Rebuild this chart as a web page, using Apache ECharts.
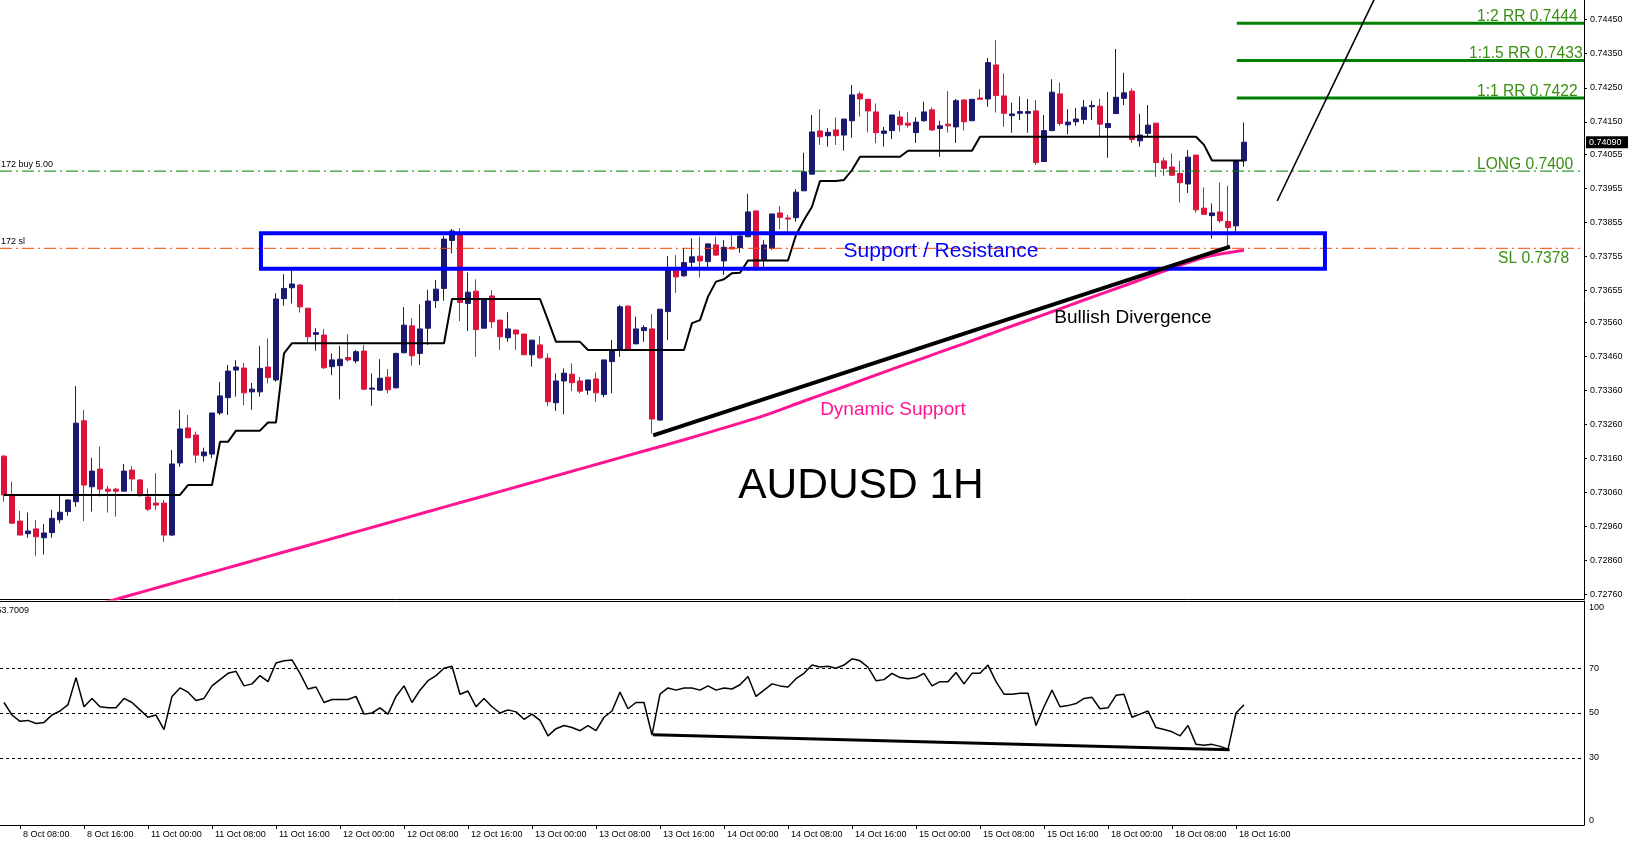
<!DOCTYPE html>
<html><head><meta charset="utf-8">
<script src="https://cdn.jsdelivr.net/npm/echarts@6/dist/echarts.min.js"></script>
<style>html,body{margin:0;padding:0;background:#fff;}#c{width:1630px;height:846px;}</style>
</head><body><div id="c"></div>
<script>
// ---------- DATA ----------
// trading sessions -> hourly categories (last ones are empty future space)
const sessions = [['8 Oct',6,23],['11 Oct',0,23],['12 Oct',0,23],['13 Oct',0,23],['14 Oct',0,23],['15 Oct',0,23],['18 Oct',0,23],['19 Oct',0,23],['20 Oct',0,11]];
const barCount = 156;

const openP = [0.73167,0.73053,0.72976,0.72939,0.72953,0.72927,0.72942,0.72980,0.73004,0.73033,
0.73271,0.73077,0.73129,0.73070,0.73070,0.73064,0.73126,0.73097,0.73047,0.73029,
0.73029,0.72935,0.73147,0.73250,0.73229,0.73168,0.73173,0.73294,0.73339,0.73420,
0.73426,0.73356,0.73356,0.73429,0.73391,0.73630,0.73662,0.73670,0.73602,0.73525,
0.73523,0.73430,0.73433,0.73457,0.73447,0.73476,0.73364,0.73361,0.73399,0.73368,
0.73471,0.73550,0.73469,0.73543,0.73624,0.73660,0.73801,0.73819,0.73616,0.73652,
0.73543,0.73638,0.73567,0.73515,0.73538,0.73526,0.73465,0.73494,0.73455,0.73324,
0.73388,0.73408,0.73388,0.73361,0.73394,0.73348,0.73445,0.73481,0.73608,0.73497,
0.73536,0.73541,0.73273,0.73592,0.73714,0.73697,0.73737,0.73755,0.73739,0.73788,
0.73741,0.73781,0.73780,0.73812,0.73888,0.73744,0.73778,0.73882,0.73867,0.73868,
0.73947,0.73996,0.74123,0.74109,0.74126,0.74111,0.74153,0.74232,0.74216,0.74179,
0.74116,0.74124,0.74164,0.74146,0.74118,0.74153,0.74185,0.74130,0.74143,0.74135,
0.74214,0.74153,0.74220,0.74217,0.74317,0.74226,0.74168,0.74175,0.74175,0.74182,
0.74033,0.74124,0.74232,0.74141,0.74150,0.74157,0.74194,0.74196,0.74133,0.74174,
0.74219,0.74240,0.74094,0.74116,0.74146,0.74035,0.74017,0.73998,0.73967,0.74052,
0.73896,0.73874,0.73885,0.73857,0.73844,0.74035];
const closeP = [0.73053,0.72970,0.72935,0.72947,0.72930,0.72941,0.72984,0.73002,0.73038,0.73264,
0.73082,0.73123,0.73070,0.73064,0.73064,0.73123,0.73100,0.73051,0.73011,0.73023,
0.72935,0.73144,0.73247,0.73221,0.73170,0.73179,0.73294,0.73344,0.73417,0.73429,
0.73353,0.73364,0.73425,0.73398,0.73629,0.73660,0.73673,0.73606,0.73518,0.73530,
0.73427,0.73450,0.73452,0.73450,0.73474,0.73364,0.73367,0.73396,0.73362,0.73469,
0.73552,0.73462,0.73541,0.73623,0.73658,0.73805,0.73829,0.73619,0.73649,0.73539,
0.73626,0.73562,0.73518,0.73541,0.73526,0.73465,0.73508,0.73456,0.73327,0.73388,
0.73411,0.73383,0.73358,0.73391,0.73353,0.73450,0.73477,0.73606,0.73481,0.73541,
0.73545,0.73276,0.73599,0.73714,0.73694,0.73736,0.73753,0.73741,0.73791,0.73758,
0.73781,0.73776,0.73814,0.73885,0.73720,0.73788,0.73879,0.73869,0.73864,0.73943,
0.74003,0.74120,0.74106,0.74119,0.74109,0.74158,0.74229,0.74217,0.74182,0.74118,
0.74123,0.74170,0.74141,0.74140,0.74149,0.74179,0.74126,0.74138,0.74138,0.74212,
0.74150,0.74216,0.74216,0.74324,0.74227,0.74175,0.74173,0.74180,0.74180,0.74030,
0.74124,0.74237,0.74145,0.74149,0.74158,0.74193,0.74198,0.74143,0.74145,0.74222,
0.74235,0.74098,0.74111,0.74140,0.74030,0.74013,0.73993,0.73971,0.74046,0.73891,
0.73878,0.73882,0.73859,0.73839,0.74035,0.74090];
const lowP = [0.73033,0.72967,0.72935,0.72927,0.72874,0.72878,0.72927,0.72970,0.72992,0.73018,
0.72976,0.73004,0.73048,0.73001,0.72989,0.73064,0.73064,0.73048,0.73006,0.73009,
0.72915,0.72932,0.73136,0.73219,0.73147,0.73151,0.73161,0.73288,0.73288,0.73342,
0.73317,0.73303,0.73342,0.73381,0.73386,0.73609,0.73616,0.73589,0.73503,0.73477,
0.73423,0.73405,0.73334,0.73445,0.73440,0.73361,0.73315,0.73359,0.73352,0.73366,
0.73469,0.73433,0.73435,0.73494,0.73603,0.73624,0.73763,0.73564,0.73535,0.73459,
0.73543,0.73543,0.73479,0.73503,0.73479,0.73465,0.73430,0.73452,0.73314,0.73300,
0.73290,0.73358,0.73352,0.73347,0.73327,0.73340,0.73352,0.73459,0.73479,0.73497,
0.73503,0.73234,0.73271,0.73508,0.73647,0.73694,0.73722,0.73692,0.73719,0.73756,
0.73700,0.73776,0.73765,0.73812,0.73711,0.73714,0.73773,0.73835,0.73827,0.73856,
0.73947,0.73996,0.74082,0.74077,0.74082,0.74065,0.74103,0.74165,0.74119,0.74087,
0.74077,0.74099,0.74121,0.74133,0.74088,0.74150,0.74123,0.74047,0.74118,0.74088,
0.74124,0.74153,0.74216,0.74194,0.74177,0.74135,0.74118,0.74155,0.74118,0.74023,
0.74033,0.74124,0.74138,0.74113,0.74138,0.74143,0.74155,0.74108,0.74044,0.74174,
0.74199,0.74088,0.74077,0.74108,0.73988,0.73991,0.73991,0.73912,0.73941,0.73883,
0.73878,0.73807,0.73853,0.73785,0.73827,0.74018];
const highP = [0.73170,0.73092,0.73006,0.73001,0.72979,0.72967,0.73009,0.73053,0.73041,0.73373,
0.73303,0.73162,0.73195,0.73080,0.73074,0.73144,0.73138,0.73100,0.73072,0.73117,
0.73038,0.73185,0.73303,0.73288,0.73239,0.73192,0.73294,0.73385,0.73435,0.73449,
0.73441,0.73382,0.73491,0.73513,0.73646,0.73702,0.73714,0.73673,0.73602,0.73543,
0.73541,0.73469,0.73491,0.73525,0.73479,0.73494,0.73410,0.73452,0.73423,0.73471,
0.73605,0.73572,0.73613,0.73656,0.73685,0.73815,0.73835,0.73837,0.73707,0.73687,
0.73626,0.73655,0.73567,0.73590,0.73538,0.73526,0.73508,0.73520,0.73469,0.73410,
0.73425,0.73440,0.73400,0.73391,0.73413,0.73450,0.73508,0.73611,0.73611,0.73577,
0.73552,0.73585,0.73599,0.73755,0.73758,0.73778,0.73807,0.73812,0.73793,0.73812,
0.73802,0.73817,0.73827,0.73938,0.73888,0.73802,0.73879,0.73902,0.73876,0.73952,
0.74059,0.74170,0.74187,0.74131,0.74163,0.74158,0.74258,0.74238,0.74216,0.74204,
0.74135,0.74170,0.74182,0.74178,0.74163,0.74209,0.74192,0.74153,0.74240,0.74217,
0.74216,0.74216,0.74246,0.74338,0.74390,0.74292,0.74206,0.74224,0.74217,0.74214,
0.74170,0.74275,0.74265,0.74187,0.74191,0.74214,0.74212,0.74217,0.74238,0.74364,
0.74294,0.74248,0.74173,0.74199,0.74146,0.74045,0.74057,0.74035,0.74067,0.74052,
0.73957,0.73910,0.73971,0.73962,0.74035,0.74148];

// black trailing (step-like) indicator line
const trailLine = [0.73053,0.73053,0.73053,0.73053,0.73053,0.73053,0.73053,0.73053,0.73053,0.73053,
0.73053,0.73053,0.73053,0.73053,0.73053,0.73053,0.73053,0.73053,0.73053,0.73053,
0.73053,0.73053,0.73053,0.73082,0.73082,0.73082,0.73082,0.73209,0.73209,0.73242,
0.73242,0.73242,0.73242,0.73266,0.73266,0.73469,0.73499,0.73499,0.73499,0.73499,
0.73499,0.73499,0.73499,0.73499,0.73499,0.73499,0.73499,0.73499,0.73499,0.73499,
0.73499,0.73499,0.73499,0.73499,0.73499,0.73499,0.73629,0.73629,0.73629,0.73629,
0.73629,0.73629,0.73629,0.73629,0.73629,0.73629,0.73629,0.73629,0.73567,0.73503,
0.73503,0.73503,0.73503,0.73479,0.73479,0.73479,0.73479,0.73479,0.73479,0.73479,
0.73479,0.73479,0.73479,0.73479,0.73479,0.73479,0.73558,0.73567,0.73636,0.73680,
0.73687,0.73705,0.73706,0.73742,0.73742,0.73742,0.73742,0.73742,0.73742,0.73817,
0.73861,0.73900,0.73976,0.73976,0.73976,0.73979,0.74008,0.74047,0.74047,0.74047,
0.74047,0.74047,0.74047,0.74065,0.74065,0.74065,0.74065,0.74065,0.74065,0.74065,
0.74065,0.74065,0.74106,0.74106,0.74106,0.74106,0.74106,0.74106,0.74106,0.74106,
0.74106,0.74106,0.74106,0.74106,0.74106,0.74106,0.74106,0.74106,0.74106,0.74106,
0.74106,0.74106,0.74106,0.74106,0.74106,0.74106,0.74106,0.74106,0.74106,0.74106,
0.74082,0.74036,0.74036,0.74036,0.74036,0.74036];

// pink moving average ("Dynamic Support"), read every 5 bars
const maIndex = [10,15,20,25,30,35,40,45,50,55,60,65,70,75,80,85,90,95,100,105,110,115,120,125,130,135,140,145,150,155];
const maValue = [0.72720,0.72753,0.72786,0.72819,0.72852,0.72885,0.72918,0.72951,0.72984,0.73017,
0.73050,0.73083,0.73116,0.73149,0.73182,0.73215,0.73250,0.73286,0.73329,0.73371,
0.73414,0.73456,0.73498,0.73541,0.73583,0.73626,0.73668,0.73711,0.73751,0.73772];

// RSI(14)
const rsiValues = [54.7,49.1,46.3,46.7,45.3,45.8,49.1,50.9,53.7,65.8,
52.8,56.5,52.8,52.3,52.3,56.5,54.7,51.4,48.1,49.1,
42.6,57.4,61.2,59.3,55.6,56.5,62.1,64.9,67.7,68.6,
62.1,63.0,66.7,64.0,72.3,73.3,73.7,67.7,60.7,61.6,
54.7,56.0,56.0,56.0,57.4,49.5,50.0,52.3,49.5,57.4,
62.1,54.7,60.2,64.4,66.7,70.0,70.9,58.4,59.8,52.8,
56.5,52.8,50.0,51.4,50.5,47.2,49.5,46.7,39.8,43.0,
44.4,43.5,42.1,44.4,42.1,48.1,50.9,59.3,51.9,54.7,
54.7,40.2,58.4,61.2,60.2,61.2,61.2,60.2,62.1,60.2,
61.2,60.7,62.6,66.3,57.4,60.2,63.0,62.1,61.6,65.3,
67.7,71.4,70.5,70.9,70.0,71.4,74.2,73.3,70.5,64.4,
64.9,67.7,65.8,65.3,65.8,67.7,62.1,64.0,64.0,68.1,
63.0,67.7,67.7,71.4,64.0,58.4,58.4,58.8,58.8,44.4,
52.8,60.2,52.8,53.3,54.2,56.5,57.0,51.9,52.3,57.9,
58.4,48.1,49.5,50.9,43.5,42.6,41.6,39.8,44.4,36.0,
35.6,36.0,35.1,33.8,50.0,53.7009];
const rsiLevels = [30, 50, 70];
const rsiTicks = [0, 30, 50, 70, 100];

// axis tick labels of the price scale
const priceTicks = [0.74450,0.74350,0.74250,0.74150,0.74055,0.73955,0.73855,0.73755,0.73655,0.73560,
0.73460,0.73360,0.73260,0.73160,0.73060,0.72960,0.72860,0.72760];

// trade levels
const longPrice = 0.74005, slPrice = 0.73778;
const rrLevels = [0.7444, 0.7433, 0.7422];
const rrLabels = ['1:2 RR 0.7444', '1:1.5 RR 0.7433', '1:1 RR 0.7422'];
// support / resistance zone (bar index from-to, price top-bottom)
const zoneBars = [32.12, 165.12];
const zonePrices = [0.73822, 0.73718];
// drawn trend lines [barIndex, price]
const divergencePrice = [[81.15, 0.73228], [153.25, 0.73783]];
const projection = [[159.15, 0.73917], [173, 0.74594]];
const divergenceRsi = [[81.1, 40.3], [153.2, 33.6]];
const rrStartBar = 154.1;

// ---------- BUILD ----------
const cats = [];
sessions.forEach(([d, a, b]) => { for (let h = a; h <= b; h++) cats.push(d + ' ' + String(h).padStart(2, '0') + ':00'); });
const N = cats.length;
const candles = openP.map((o, i) => [o, closeP[i], lowP[i], highP[i]]);
const FONT = "'Liberation Sans', Arial, sans-serif";
const BULL = '#191970', BEAR = '#DC143C';
const labelShown = (i) => i < barCount && (i - 2) % 8 === 0;

const hLine = (v, color, width, type, from, to) => ({
  type: 'line', xAxisIndex: 1, yAxisIndex: 0, silent: true, showSymbol: false, symbol: 'none', z: 6,
  data: [[from, v], [to, v]], lineStyle: { color, width, type }
});

const option = {
  animation: false,
  backgroundColor: '#ffffff',
  grid: [
    { left: 0, top: 0, width: 1584, height: 599 },
    { left: 0, top: 601, width: 1584, height: 224 }
  ],
  xAxis: [
    { type: 'category', gridIndex: 0, data: cats, boundaryGap: true,
      axisLine: { show: true, onZero: false, lineStyle: { color: '#000', width: 1 } },
      axisTick: { show: false }, axisLabel: { show: false }, splitLine: { show: false } },
    { type: 'value', gridIndex: 0, min: -0.5, max: N - 0.5, show: false },
    { type: 'category', gridIndex: 1, data: cats, boundaryGap: true,
      axisLine: { show: true, onZero: false, lineStyle: { color: '#000', width: 1 } },
      axisTick: { show: true, interval: labelShown, alignWithLabel: true, length: 4, lineStyle: { color: '#000' } },
      axisLabel: { show: true, interval: labelShown, align: 'left', padding: [0, 0, 0, 3], margin: 5,
        color: '#000', fontSize: 9, fontFamily: FONT },
      splitLine: { show: false } },
    { type: 'value', gridIndex: 1, min: -0.5, max: N - 0.5, position: 'top',
      axisLine: { show: true, onZero: false, lineStyle: { color: '#000', width: 1 } },
      axisTick: { show: false }, axisLabel: { show: false }, splitLine: { show: false } }
  ],
  yAxis: [
    { type: 'value', gridIndex: 0, position: 'right', min: 0.72747, max: 0.74508, scale: true,
      axisLine: { show: true, onZero: false, lineStyle: { color: '#000', width: 1 } },
      axisTick: { show: true, customValues: priceTicks, length: 3, lineStyle: { color: '#000' } },
      axisLabel: { show: true, customValues: priceTicks, formatter: (v) => Number(v).toFixed(5),
        color: '#000', fontSize: 9, fontFamily: FONT, margin: 6 },
      splitLine: { show: false } },
    { type: 'value', gridIndex: 1, position: 'right', min: 0, max: 100,
      axisLine: { show: true, onZero: false, lineStyle: { color: '#000', width: 1 } },
      axisTick: { show: false },
      axisLabel: { show: true, customValues: rsiTicks, color: '#000', fontSize: 9, fontFamily: FONT, margin: 5,
        verticalAlignMaxLabel: 'top', verticalAlignMinLabel: 'bottom', padding: [2, 0, 0, 0] },
      splitLine: { show: false } }
  ],
  series: [
    { name: 'MA', type: 'line', xAxisIndex: 1, yAxisIndex: 0, silent: true, showSymbol: false, symbol: 'none',
      smooth: 0.3, z: 2, data: maIndex.map((x, k) => [x, maValue[k]]),
      lineStyle: { color: '#FF1493', width: 3 } },
    { name: 'AUDUSD', type: 'candlestick', xAxisIndex: 0, yAxisIndex: 0, barWidth: 5, z: 3, silent: true,
      data: candles,
      itemStyle: { color: BULL, color0: BEAR, borderColor: BULL, borderColor0: BEAR, borderWidth: 1 } },
    { name: 'Trail', type: 'line', xAxisIndex: 0, yAxisIndex: 0, silent: true, showSymbol: false, symbol: 'none', z: 4,
      data: trailLine, lineStyle: { color: '#000', width: 2 } },
    hLine(longPrice, '#008000', 1, [12, 4, 2, 4], -0.5, N - 0.5),
    hLine(slPrice, '#FF4500', 1, [12, 4, 2, 4], -0.5, N - 0.5),
    ...rrLevels.map(v => hLine(v, '#008000', 3, 'solid', rrStartBar, N - 0.5)),
    { name: 'Zone', type: 'line', xAxisIndex: 1, yAxisIndex: 0, silent: true, showSymbol: false, symbol: 'none', z: 7,
      data: [[zoneBars[0], zonePrices[0]], [zoneBars[1], zonePrices[0]], [zoneBars[1], zonePrices[1]],
             [zoneBars[0], zonePrices[1]], [zoneBars[0], zonePrices[0]]],
      lineStyle: { color: '#0000FF', width: 4, join: 'miter', cap: 'square' } },
    { name: 'Divergence', type: 'line', xAxisIndex: 1, yAxisIndex: 0, silent: true, showSymbol: false, symbol: 'none', z: 8,
      data: divergencePrice, lineStyle: { color: '#000', width: 4 } },
    { name: 'Projection', type: 'line', xAxisIndex: 1, yAxisIndex: 0, silent: true, showSymbol: false, symbol: 'none', z: 8,
      data: projection, lineStyle: { color: '#000', width: 1.6 } },
    { name: 'RSI', type: 'line', xAxisIndex: 2, yAxisIndex: 1, silent: true, showSymbol: false, symbol: 'none', z: 4,
      data: rsiValues, lineStyle: { color: '#000', width: 1.5 },
      markLine: { silent: true, symbol: 'none', label: { show: false },
        lineStyle: { color: '#000', width: 1, type: [3, 3] },
        data: rsiLevels.map(v => ({ yAxis: v })) } },
    { name: 'RSI divergence', type: 'line', xAxisIndex: 3, yAxisIndex: 1, silent: true, showSymbol: false, symbol: 'none', z: 5,
      data: divergenceRsi, lineStyle: { color: '#000', width: 3 } }
  ]
};

const chart = echarts.init(document.getElementById('c'), null, { renderer: 'canvas', width: 1630, height: 846 });
chart.setOption(option);

const txt = (text, x, y, size, fill, align, extra) => Object.assign({
  type: 'text', x, y, z: 100, silent: true,
  style: { text, fill, fontSize: size, fontFamily: FONT, align: align || 'left', verticalAlign: 'middle' }
}, extra || {});

const lastClose = closeP[barCount - 1];
const tagY = chart.convertToPixel({ yAxisIndex: 0 }, lastClose);
const GREEN_TXT = '#3a8f12';
chart.setOption({
  graphic: [
    txt('AUDUSD 1H', 861, 486, 42.5, '#000', 'center'),
    txt('Support / Resistance', 941, 251, 21, '#0000FF', 'center'),
    txt('Dynamic Support', 893, 410, 19, '#FF1493', 'center'),
    txt('Bullish Divergence', 1133, 318, 19, '#000', 'center'),
    txt(rrLabels[0], 1477, 17, 15.6, GREEN_TXT),
    txt(rrLabels[1], 1469, 54, 15.6, GREEN_TXT),
    txt(rrLabels[2], 1477, 92, 15.6, GREEN_TXT),
    txt('LONG 0.7400', 1477, 165, 15.6, GREEN_TXT),
    txt('SL 0.7378', 1498, 259, 15.6, GREEN_TXT),
    txt('172 buy 5.00', 1, 165, 9, '#000'),
    txt('172 sl', 1, 242, 9, '#000'),
    txt('RSI(14) 53.7009', 29, 611, 9, '#000', 'right'),
    { type: 'rect', z: 101, silent: true, shape: { x: 1586, y: tagY - 6, width: 42, height: 12 }, style: { fill: '#000' } },
    txt(lastClose.toFixed(5), 1589, tagY, 9, '#fff', 'left', { z: 102 })
  ]
});
</script></body></html>
